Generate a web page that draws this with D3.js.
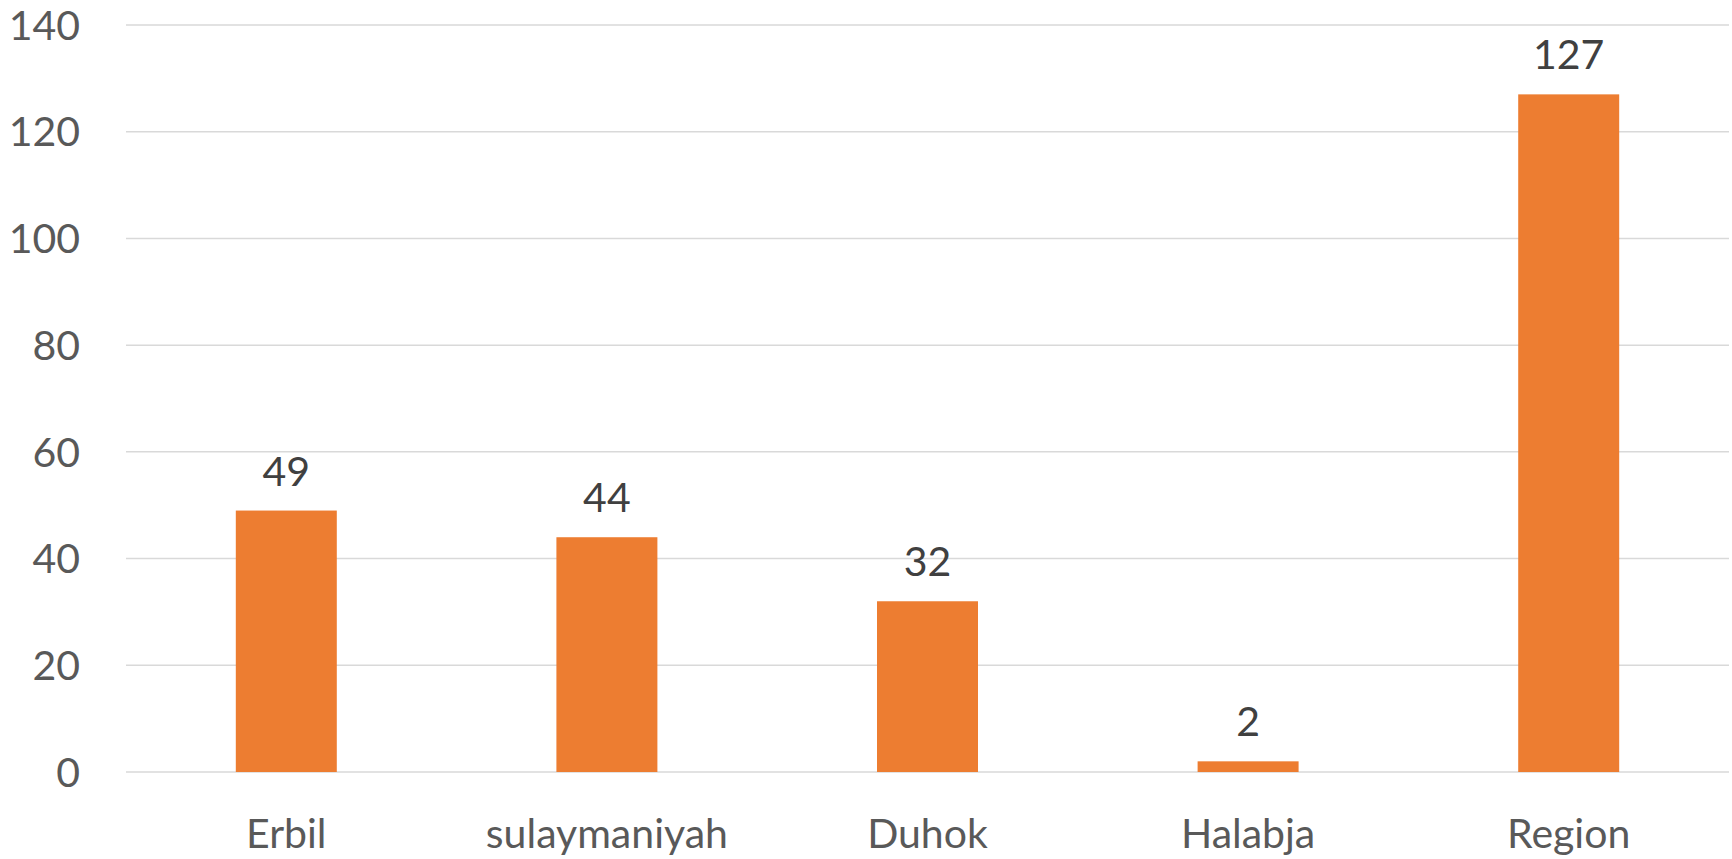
<!DOCTYPE html>
<html>
<head>
<meta charset="utf-8">
<script src="https://cdn.jsdelivr.net/npm/d3@7"></script>
<style>
  html, body { margin: 0; padding: 0; background: #fff; }
  svg { display: block; }
  .tick-label { font-family: Lato, "Open Sans", sans-serif; font-size: 41px; fill: #595959; }
  .value { font-family: Lato, "Open Sans", sans-serif; font-size: 41px; fill: #404040; }
</style>
</head>
<body>
<svg width="1732" height="859"></svg>
<script>
// data
const regions = ["Erbil", "sulaymaniyah", "Duhok", "Halabja", "Region"];
const counts = [49, 44, 32, 2, 127];
const yTicks = [0, 20, 40, 60, 80, 100, 120, 140];

const svg = d3.select('svg');

const plotLeft = 126, plotRight = 1729;
const plotTop = 25, plotBottom = 772;

const xScale = d3.scaleBand()
  .domain(regions)
  .range([plotLeft, plotRight])
  .paddingInner(0.685)
  .paddingOuter(0.3425);

const yScale = d3.scaleLinear()
  .domain([0, 140])
  .range([plotBottom, plotTop]);

// grid lines
svg.append('g')
  .selectAll('line')
  .data(yTicks)
  .enter()
  .append('line')
  .attr('x1', plotLeft)
  .attr('x2', plotRight)
  .attr('y1', d => yScale(d))
  .attr('y2', d => yScale(d))
  .attr('stroke', '#d9d9d9')
  .attr('stroke-width', 1.5);

// y tick labels
svg.append('g')
  .selectAll('text')
  .data(yTicks)
  .enter()
  .append('text')
  .attr('class', 'tick-label')
  .attr('x', 80)
  .attr('y', d => yScale(d))
  .attr('dy', '0.36em')
  .attr('text-anchor', 'end')
  .text(d => d);

const data = regions.map((r, i) => ({ name: r, value: counts[i] }));

// bars
svg.append('g')
  .selectAll('rect')
  .data(data)
  .enter()
  .append('rect')
  .attr('x', d => xScale(d.name))
  .attr('y', d => yScale(d.value))
  .attr('width', xScale.bandwidth())
  .attr('height', d => plotBottom - yScale(d.value))
  .attr('fill', '#ED7D31');

// value labels
svg.append('g')
  .selectAll('text')
  .data(data)
  .enter()
  .append('text')
  .attr('class', 'value')
  .attr('x', d => xScale(d.name) + xScale.bandwidth() / 2)
  .attr('y', d => yScale(d.value) - 25)
  .attr('text-anchor', 'middle')
  .text(d => d.value);

// category labels
svg.append('g')
  .selectAll('text')
  .data(regions)
  .enter()
  .append('text')
  .attr('class', 'tick-label')
  .attr('x', d => xScale(d) + xScale.bandwidth() / 2)
  .attr('y', 848)
  .attr('text-anchor', 'middle')
  .text(d => d);
</script>
</body>
</html>
